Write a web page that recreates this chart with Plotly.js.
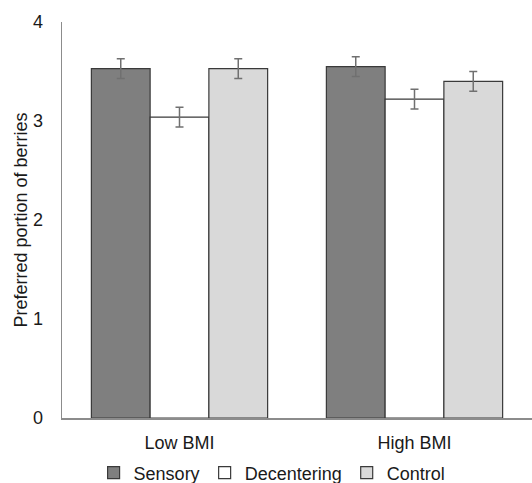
<!DOCTYPE html>
<html>
<head>
<meta charset="utf-8">
<script src="https://cdn.plot.ly/plotly-3.0.1.min.js"></script>
<style>html,body{margin:0;padding:0;background:#fff;}#chart{width:532px;height:483px;}</style>
</head>
<body>
<div id="chart"></div>
<script>
const categories = ["Low BMI", "High BMI"];
const seriesNames = ["Sensory", "Decentering", "Control"];
const sensory = [3.53, 3.55];
const sensoryErr = [0.10, 0.10];
const decentering = [3.04, 3.22];
const decenteringErr = [0.10, 0.10];
const control = [3.53, 3.40];
const controlErr = [0.10, 0.10];
const yTicks = [0, 1, 2, 3, 4];

const fills = ["#7f7f7f", "#ffffff", "#d9d9d9"];
const vals = [sensory, decentering, control];
const errs = [sensoryErr, decenteringErr, controlErr];

const traces = seriesNames.map((name, i) => ({
  type: "bar",
  name: name,
  x: categories,
  y: vals[i],
  marker: { color: fills[i], line: { color: "#3a3a3a", width: 1.2 } },
  error_y: { type: "data", array: errs[i], visible: true, color: "#707070", thickness: 1.5, width: 4 }
}));

const layout = {
  width: 532, height: 483,
  margin: { l: 62, r: 0, t: 22, b: 65, autoexpand: false },
  paper_bgcolor: "#fff", plot_bgcolor: "#fff",
  barmode: "group", bargap: 0.25, bargroupgap: 0,
  font: { family: "Liberation Sans, Arial, sans-serif", size: 18, color: "#1a1a1a" },
  xaxis: {
    showline: true, linecolor: "#8c8c8c", linewidth: 1.5,
    showgrid: false, zeroline: false, automargin: false,
    ticks: "outside", ticklen: 8, tickcolor: "rgba(0,0,0,0)",
    tickfont: { size: 18 }
  },
  yaxis: {
    range: [0, 4], tickvals: yTicks, automargin: false,
    showline: true, linecolor: "#8c8c8c", linewidth: 1.5,
    showgrid: false, zeroline: false,
    ticks: "outside", ticklen: 14, tickcolor: "rgba(0,0,0,0)",
    tickfont: { size: 18 },
    title: { text: "Preferred portion of berries", font: { size: 18 }, standoff: 0 }
  },
  showlegend: true,
  legend: {
    orientation: "h", x: 0.447, xanchor: "center", y: -0.092, yanchor: "top",
    font: { size: 18 }, itemwidth: 30, traceorder: "normal"
  }
};

Plotly.newPlot("chart", traces, layout, { staticPlot: true, displayModeBar: false });
</script>
</body>
</html>
